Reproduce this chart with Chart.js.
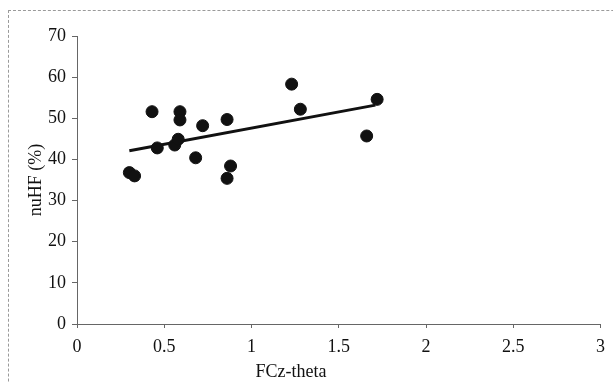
<!DOCTYPE html>
<html>
<head>
<meta charset="utf-8">
<script src="https://cdn.jsdelivr.net/npm/chart.js@4"></script>
<style>
    body { margin: 0; background: #fff; overflow: hidden; }
    #wrap { position: relative; width: 613px; height: 382px; }
    #frame { position: absolute; left: 8px; top: 10px; width: 700px; height: 500px;
             border-left: 1px dashed #9a9a9a; border-top: 1px dashed #9a9a9a; }
    #xTitle { position: absolute; left: 291px; top: 361px; transform: translateX(-50%);
              font: 18px "Liberation Serif", serif; color: #111; }
    canvas { position: absolute; left: 0; top: 0; }
</style>
</head>
<body>
<div id="wrap">
    <div id="frame"></div>
    <canvas id="chart" width="613" height="382"></canvas>
    <div id="xTitle">FCz-theta</div>
</div>
<script>
// Data
const fczTheta = [0.30, 0.33, 0.43, 0.46, 0.56, 0.58, 0.59, 0.59, 0.68, 0.72, 0.86, 0.86, 0.88, 1.23, 1.28, 1.66, 1.72];
const nuHF     = [36.8, 36.0, 51.6, 42.8, 43.5, 44.9, 51.6, 49.6, 40.4, 48.2, 49.7, 35.4, 38.4, 58.3, 52.2, 45.7, 54.6];

// Trend line end points
const trendX = [0.30, 1.71];
const trendY = [42.1, 53.2];

const xTicks = [0, 0.5, 1, 1.5, 2, 2.5, 3];
const yTicks = [0, 10, 20, 30, 40, 50, 60, 70];

const tickFont = { family: "'Liberation Serif', serif", size: 18 };

new Chart(document.getElementById("chart"), {
    type: "scatter",
    data: {
        datasets: [
            {
                label: "nuHF",
                data: fczTheta.map((x, i) => ({ x: x, y: nuHF[i] })),
                backgroundColor: "#111",
                borderColor: "#111",
                pointRadius: 6,
                pointHoverRadius: 6
            },
            {
                label: "trend",
                type: "line",
                data: trendX.map((x, i) => ({ x: x, y: trendY[i] })),
                borderColor: "#111",
                borderWidth: 3,
                pointRadius: 0,
                fill: false
            }
        ]
    },
    options: {
        responsive: false,
        animation: false,
        layout: { padding: { top: 36, right: 12, left: 0, bottom: 0 } },
        plugins: { legend: { display: false }, tooltip: { enabled: false } },
        scales: {
            x: {
                type: "linear",
                min: 0, max: 3,
                afterBuildTicks: s => { s.ticks = xTicks.map(v => ({ value: v })); },
                afterFit: s => { s.height = 58; },
                grid: { drawOnChartArea: false, tickLength: 4, color: "#666" },
                border: { color: "#666", width: 1 },
                ticks: { font: tickFont, color: "#111", padding: 8, maxRotation: 0,
                         callback: v => String(v) }
            },
            y: {
                min: 0, max: 70,
                afterBuildTicks: s => { s.ticks = yTicks.map(v => ({ value: v })); },
                afterFit: s => { s.width = 77; },
                grid: { drawOnChartArea: false, tickLength: 5, color: "#666" },
                border: { color: "#666", width: 1 },
                ticks: { font: tickFont, color: "#111", padding: 6,
                         callback: v => String(v) },
                title: {
                    display: true,
                    text: "nuHF (%)",
                    font: tickFont,
                    color: "#111",
                    padding: { top: 25, bottom: 0 }
                }
            }
        }
    }
});
</script>
</body>
</html>
